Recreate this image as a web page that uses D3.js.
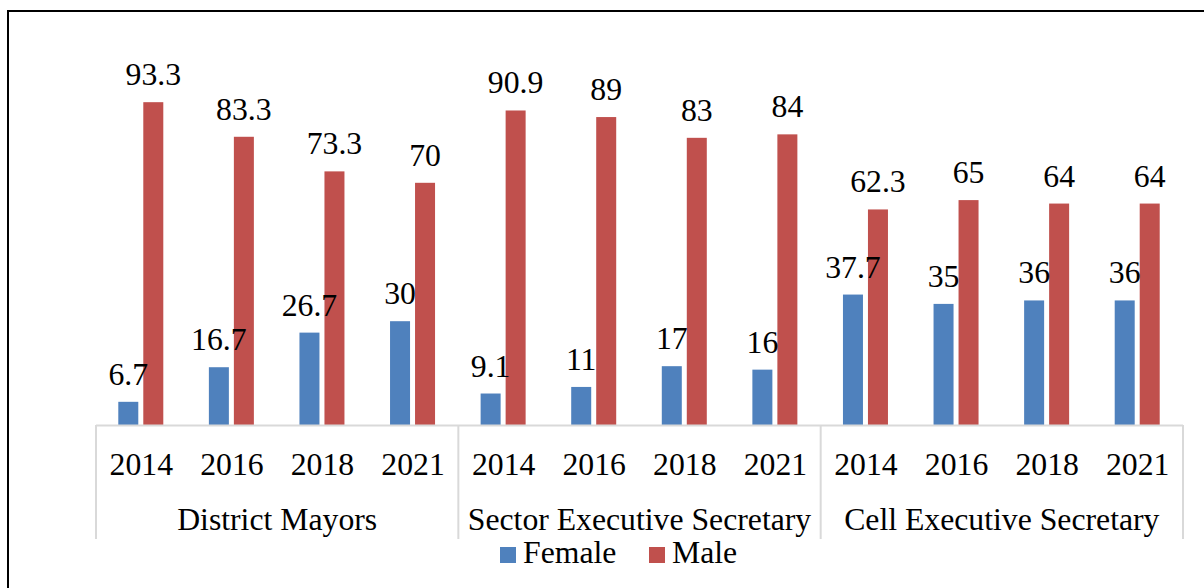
<!DOCTYPE html>
<html>
<head>
<meta charset="utf-8">
<script src="https://cdn.jsdelivr.net/npm/d3@7"></script>
<style>
  html, body { margin: 0; padding: 0; background: #fff; }
  svg { display: block; }
</style>
</head>
<body>
<svg id="chart" width="1204" height="588"></svg>
<script>
const groups = ["District Mayors", "Sector Executive Secretary", "Cell Executive Secretary"];
const years = ["2014", "2016", "2018", "2021"];
const seriesNames = ["Female", "Male"];
const female = [6.7, 16.7, 26.7, 30, 9.1, 11, 17, 16, 37.7, 35, 36, 36];
const male = [93.3, 83.3, 73.3, 70, 90.9, 89, 83, 84, 62.3, 65, 64, 64];
const colors = ["#4F81BD", "#C0504D"];

// pick an available serif font
const ctx = document.createElement("canvas").getContext("2d");
function w(font) { ctx.font = font; return ctx.measureText("District Mayors 2014 Wmil").width; }
const cands = ["Liberation Serif", "Tinos", "Times New Roman", "DejaVu Serif", "Noto Serif", "FreeSerif", "Nimbus Roman", "serif"];
let family = "Liberation Sans";
for (const c of cands) {
  const a = w(`30px '${c}', monospace`), b = w("30px monospace");
  const a2 = w(`30px '${c}', sans-serif`), b2 = w("30px sans-serif");
  if (Math.abs(a - b) > 0.5 && Math.abs(a2 - b2) > 0.5) { family = c; break; }
}
// size so that "District Mayors" spans about 200px
ctx.font = `100px '${family}'`;
let fs = 100 * 200 / ctx.measureText("District Mayors").width;
fs = Math.max(26, Math.min(32, fs));

const svg = d3.select("#chart").style("font-family", `'${family}', serif`);
const W = 1204, H = 588;
const left = 96, right = 1183, baseY = 425, topY = 79;

// outer frame
svg.append("rect").attr("x", 8).attr("y", 11).attr("width", W + 20).attr("height", H + 20)
  .attr("fill", "none").attr("stroke", "#000").attr("stroke-width", 2);

const y = d3.scaleLinear().domain([0, 100]).range([baseY, topY]);
const gx = d3.scaleBand().domain(groups).range([left, right]).padding(0);
const yx = d3.scaleBand().domain(years).range([0, gx.bandwidth()]).padding(0);

const rows = [];
groups.forEach((g, gi) => years.forEach((yr, yi) => {
  const i = gi * 4 + yi;
  rows.push({ g, yr, vals: [female[i], male[i]] });
}));

rows.forEach(r => {
  const cx = gx(r.g) + yx(r.yr) + yx.bandwidth() / 2;
  const sx = d3.scaleBand().domain(seriesNames).range([cx - 23, cx + 22]).paddingInner(0.2).paddingOuter(0);
  seriesNames.forEach((s, si) => {
    const v = r.vals[si];
    svg.append("rect")
      .attr("x", sx(s)).attr("width", sx.bandwidth())
      .attr("y", y(v)).attr("height", y(0) - y(v))
      .attr("fill", colors[si]);
  });
  seriesNames.forEach((s, si) => {
    const v = r.vals[si];
    svg.append("text")
      .attr("x", sx(s) + sx.bandwidth() / 2).attr("y", y(v) - 17)
      .attr("text-anchor", "middle").attr("font-size", fs).attr("fill", "#000")
      .text(String(v));
  });
  svg.append("text").attr("x", cx).attr("y", 475)
    .attr("text-anchor", "middle").attr("font-size", fs).text(r.yr);
});

// axis lines
const axisColor = "#D9D9D9";
svg.append("line").attr("x1", left).attr("x2", right).attr("y1", baseY + 0.5).attr("y2", baseY + 0.5)
  .attr("stroke", axisColor).attr("stroke-width", 2);
const bounds = groups.map(g => gx(g)).concat([right]);
bounds.forEach(bx => {
  svg.append("line").attr("x1", bx).attr("x2", bx).attr("y1", baseY).attr("y2", 539)
    .attr("stroke", axisColor).attr("stroke-width", 2);
});
groups.forEach(g => {
  svg.append("text").attr("x", gx(g) + gx.bandwidth() / 2).attr("y", 530)
    .attr("text-anchor", "middle").attr("font-size", fs).text(g);
});

// legend
const legendItems = [{ name: "Female", x: 500 }, { name: "Male", x: 649 }];
legendItems.forEach((it, i) => {
  svg.append("rect").attr("x", it.x).attr("y", 547).attr("width", 16).attr("height", 16).attr("fill", colors[i]);
  svg.append("text").attr("x", it.x + 23).attr("y", 563).attr("font-size", fs).text(seriesNames[i]);
});
</script>
</body>
</html>
